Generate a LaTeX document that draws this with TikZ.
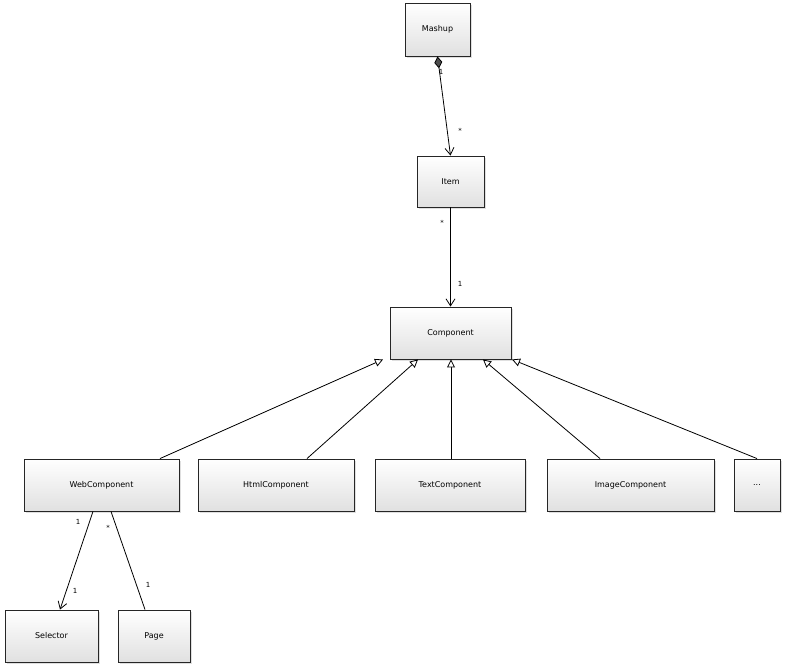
\documentclass[tikz,border=0pt]{standalone}
\usepackage{fontspec}
\setmainfont{DejaVu Sans}
\usetikzlibrary{arrows.meta,shadows}
\begin{document}
\begin{tikzpicture}[x=1pt,y=-1pt,
  cls/.style={draw=black!85,line width=0.9pt,top color=white,bottom color=black!12,
    drop shadow={shadow xshift=2pt,shadow yshift=-2pt,opacity=0.25},font=\fontsize{8}{9}\selectfont},
  lab/.style={font=\fontsize{7}{8}\selectfont,inner sep=0pt},
  assoc/.style={line width=0.8pt,-{Straight Barb[length=7pt,width=9pt]}},
  gen/.style={line width=0.8pt,-{Triangle[open,length=8pt,width=8pt,fill=white]}},
  comp/.style={line width=0.8pt,{Diamond[length=12pt,width=8pt,fill=black!70]}-{Straight Barb[length=7pt,width=9pt]}}]
\useasboundingbox (0,0) rectangle (799,667);
\newcommand{\cbox}[6]{\node[cls,minimum width=#4-#2,minimum height=#5-#3,inner sep=0pt] (#1) at ({(#2+#4)/2},{(#3+#5)/2}) {#6};}
\cbox{mash}{405}{3}{470}{56}{Mashup}
\cbox{item}{417}{156}{484}{207}{Item}
\cbox{comp}{390}{307}{511}{359}{Component}
\cbox{web}{24}{459}{179}{511}{WebComponent}
\cbox{html}{198}{459}{354}{511}{HtmlComponent}
\cbox{text}{375}{459}{525}{511}{TextComponent}
\cbox{img}{547}{459}{714}{511}{ImageComponent}
\cbox{dots}{734}{459}{780}{511}{...}
\cbox{sel}{5}{610}{98}{662}{Selector}
\cbox{page}{118}{610}{190}{662}{Page}
\draw[comp] (mash.south) -- (item.north);
\draw[assoc] (item.south) -- (comp.north);
\draw[gen] (web.north -| 160,0) -- (comp.south -| 383,0);
\draw[gen] (html.north -| 307,0) -- (comp.south -| 418,0);
\draw[gen] (text.north -| 451,0) -- (comp.south -| 451,0);
\draw[gen] (img.north -| 600,0) -- (comp.south -| 483,0);
\draw[gen] (dots.north -| 757,0) -- (comp.south -| 512,0);
\draw[assoc] (web.south -| 93,0) -- (sel.north -| 60,0);
\draw[line width=0.8pt] (web.south -| 111,0) -- (page.north -| 145,0);
\node[lab] (l1) at (441,72) {1};
\node[lab] (l2) at (460,131) {*};
\node[lab] (l3) at (442,223) {*};
\node[lab] (l4) at (460,284) {1};
\node[lab] (l5) at (78,522) {1};
\node[lab] (l6) at (75,591) {1};
\node[lab] (l7) at (108,528) {*};
\node[lab] (l8) at (148,585) {1};
\end{tikzpicture}
\end{document}
